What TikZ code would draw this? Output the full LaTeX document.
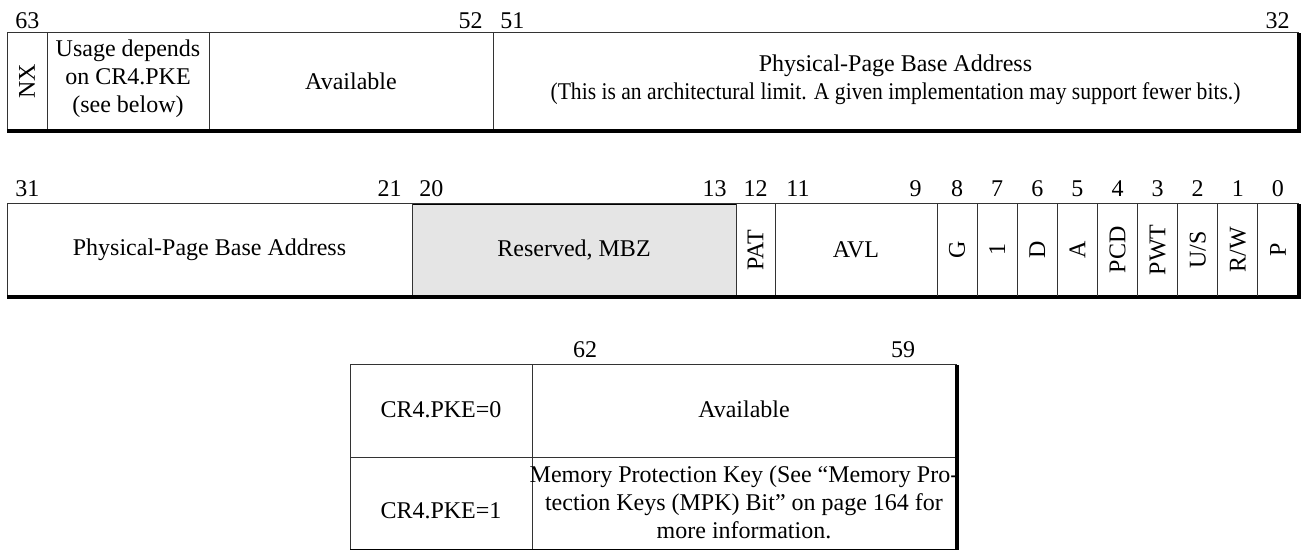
\documentclass[tikz,border=0pt]{standalone}
\usepackage{fontspec}
\setmainfont{Liberation Serif}
\newcommand{\regfont}{\fontsize{12}{14}\selectfont}

\begin{document}
\begin{tikzpicture}[x=0.5pt, y=-0.5pt,
    field/.style={font=\regfont, inner sep=0pt, align=center},
    vfield/.style={field, rotate=90},
    bitno/.style={font=\regfont, inner sep=0pt},
    frame/.style={draw=black!80, line width=0.5pt},
    shade/.style={draw=black, line width=2pt},
    mbz/.style={fill=black!10}
]
\useasboundingbox (0,0) rectangle (1301,550);

% Bits 63-32
\draw[frame] (7,33) rectangle (1298,130);
\draw[frame] (47,33) -- (47,130) (209,33) -- (209,130) (493,33) -- (493,130);
\draw[shade] (7,131) -- (1299,131) -- (1299,33);
\node[vfield] (nx) at (27,81.5) {NX};
\node[field] (usage) at (128,79) {Usage depends\\on CR4.PKE\\(see below)};
\node[field] (avail) at (351,81.5) {Available};
\node[field] (base-hi) at (895.5,80) {Physical-Page Base Address\\
    \scalebox{0.9}[1]{(This is an architectural limit. A given implementation may support fewer bits.)}};
\node[bitno, anchor=west] (b63) at (15,21) {63};
\node[bitno, anchor=east] (b52) at (483,21) {52};
\node[bitno, anchor=west] (b51) at (500,21) {51};
\node[bitno, anchor=east] (b32) at (1290,21) {32};

% Bits 31-0
\draw[mbz] (412,204) rectangle (736,296);
\draw[frame] (7,204) rectangle (1298,296);
\draw[frame] (412,204) -- (412,296) (736,204) -- (736,296) (775,204) -- (775,296);
\draw[shade] (7,297.5) -- (1299,297.5) -- (1299,204);
\node[field] (base-lo) at (209.5,250) {Physical-Page Base Address};
\node[field] (rsvd) at (574,250) {Reserved, MBZ};
\node[vfield] (pat) at (755.5,250) {PAT};
\node[field] (avl) at (856,250) {AVL};
\node[bitno, anchor=west] (b31) at (15,189) {31};
\node[bitno, anchor=east] (b21) at (402,189) {21};
\node[bitno, anchor=west] (b20) at (419,189) {20};
\node[bitno, anchor=east] (b13) at (727,189) {13};
\node[bitno] (b12) at (755.5,189) {12};
\node[bitno, anchor=west] (b11) at (786,189) {11};
\node[bitno, anchor=east] (b9) at (922,189) {9};
\foreach \txt [count=\i from 0] in {G,1,D,A,PCD,PWT,U/S,R/W,P} {
  \pgfmathsetmacro{\xl}{937+40.11*\i}
  \pgfmathtruncatemacro{\bit}{8-\i}
  \draw[frame] (\xl,204) -- (\xl,296);
  \node[vfield] (f\bit) at (\xl+20.05,250) {\txt};
  \node[bitno] (b\bit) at (\xl+20.05,189) {\bit};
}

% Bits 62-59 by CR4.PKE
\draw[frame] (350,365) rectangle (956,549);
\draw[frame] (532,365) -- (532,549) (350,458) -- (956,458);
\draw[shade] (350,551) -- (957,551) -- (957,365);
\node[field] (pke0) at (441,410) {CR4.PKE=0};
\node[field] (pke1) at (441,511) {CR4.PKE=1};
\node[field] (avail-pke) at (744,409) {Available};
\node[field] (mpk) at (744,502) {Memory Protection Key (See “Memory Pro-\\
    tection Keys (MPK) Bit” on page 164 for\\more information.};
\node[bitno] (b62) at (585,349.5) {62};
\node[bitno] (b59) at (903,349.5) {59};

\end{tikzpicture}
\end{document}
